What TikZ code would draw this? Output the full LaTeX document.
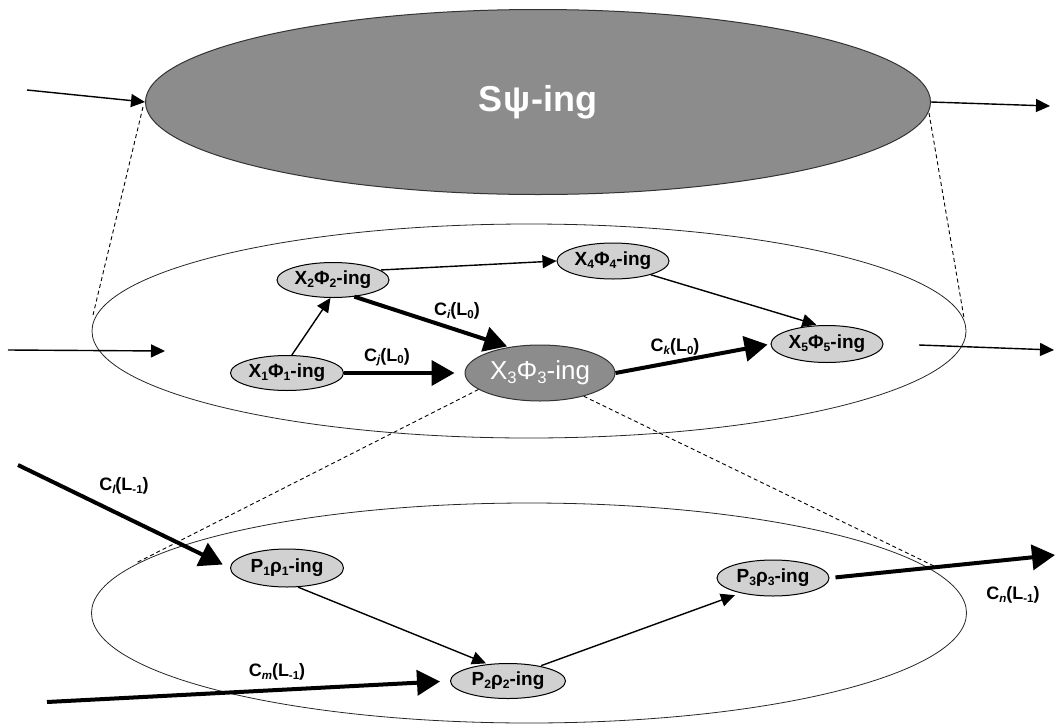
\documentclass[tikz,border=0pt]{standalone}
\usepackage{fontspec}
\setmainfont{Liberation Sans}
\usetikzlibrary{shapes.geometric,arrows.meta}
\makeatletter
\newcommand{\sbs}[1]{\raisebox{-0.28ex}{\fontsize{\strip@pt\dimexpr0.64\dimexpr\f@size pt\relax\relax}{0}\selectfont #1}}
\makeatother
\newcommand{\isbs}[1]{\sbs{\itshape #1}}
\definecolor{dkfill}{gray}{0.55}
\definecolor{ltfill}{gray}{0.82}
\begin{document}
\begin{tikzpicture}[x=1pt,y=-1pt,
  small/.style={ellipse,draw=black,line width=1pt,fill=ltfill,inner sep=0pt,
    font=\bfseries\fontsize{19}{19}\selectfont},
  big/.style={ellipse,draw=black!80,line width=1pt,fill=dkfill,inner sep=0pt,text=white},
  layer/.style={ellipse,draw=black!85,line width=0.8pt,inner sep=0pt},
  thin/.style={-{Triangle[length=14pt,width=13pt]},line width=1.4pt},
  thick/.style={-{Triangle[length=23pt,width=25pt]},line width=4pt},
  dashline/.style={line width=0.9pt,dash pattern=on 4pt off 3pt},
  lab/.style={font=\bfseries\fontsize{18}{18}\selectfont}]
\useasboundingbox (0,0) rectangle (1055,726);
% layers
\node[layer,minimum width=874,minimum height=214] (mid) at (529,331) {};
\node[layer,minimum width=875,minimum height=220] (bot) at (529,613) {};
\node[big,minimum width=785,minimum height=185,
  font=\bfseries\fontsize{36}{36}\selectfont] (S) at (538,102) {S\kern1pt ψ-ing};
% dashed projection lines
\coordinate (sl) at (143,107);
\coordinate (sr) at (929,113);
\coordinate (ml) at (93,315);
\coordinate (mr) at (964,318);
\draw[dashline] (sl) -- (ml);
\draw[dashline] (sr) -- (mr);
% middle nodes
\node[small,minimum width=112,minimum height=35] (x2) at (333,280) {X\sbs{2}Φ\sbs{2}-ing};
\node[small,minimum width=112,minimum height=36] (x4) at (613,261) {X\sbs{4}Φ\sbs{4}-ing};
\node[small,minimum width=113,minimum height=35] (x1) at (287,373) {X\sbs{1}Φ\sbs{1}-ing};
\node[big,minimum width=150,minimum height=56,
  font=\fontsize{26}{26}\selectfont] (x3) at (540,373) {X\sbs{3}Φ\sbs{3}-ing};
\node[small,minimum width=112,minimum height=37] (x5) at (827,344) {X\sbs{5}Φ\sbs{5}-ing};
% bottom nodes
\node[small,minimum width=113,minimum height=38] (p1) at (287,568) {P\sbs{1}ρ\sbs{1}-ing};
\node[small,minimum width=115,minimum height=35] (p2) at (508,681) {P\sbs{2}ρ\sbs{2}-ing};
\node[small,minimum width=112,minimum height=36] (p3) at (773,578) {P\sbs{3}ρ\sbs{3}-ing};
% dashed from X3
\coordinate (bl) at (136,563);
\coordinate (br) at (936,567);
\draw[dashline] (x3.195) -- (bl);
\draw[dashline] (x3.-28) -- (br);
% top arrows
\coordinate (tin) at (27,90);
\coordinate (tout) at (1050,106);
\draw[thin] (tin) -- (S.west);
\draw[thin] (S.east) -- (tout);
% middle arrows
\coordinate (min) at (8,350);
\coordinate (mine) at (165,351);
\coordinate (mout0) at (919,345);
\coordinate (mout) at (1054,350);
\draw[thin] (min) -- (mine);
\draw[thin] (mout0) -- (mout);
\draw[thin] (x1.75) -- (x2.262);
\draw[thin,shorten <=1pt] (x2.12) -- (x4.west);
\draw[thin,shorten >=2pt] (x4.-20) -- (x5.115);
\draw[thick,shorten >=2pt] (x2.-38) -- (x3.140);
\node[lab] (lci) at (457,311) {C\isbs{i}(L\sbs{0})};
\draw[thick,shorten >=10pt] (x1.east) -- (x3.west);
\node[lab] (lcj) at (387,357) {C\isbs{j}(L\sbs{0})};
\draw[thick,shorten >=3pt] (x3.east) -- (x5.west);
\node[lab] (lck) at (675,347) {C\isbs{k}(L\sbs{0})};
% bottom arrows
\coordinate (cl) at (18,465);
\coordinate (cm) at (47,702);
\coordinate (cn) at (1055,555);
\draw[thick,shorten >=8pt] (cl) -- (p1.west);
\node[lab] (lcl) at (124,486) {C\isbs{l}(L\sbs{-1})};
\draw[thin,shorten >=2pt] (p1.-60) -- (p2.140);
\draw[thick,shorten >=10pt] (cm) -- (p2.west);
\node[lab] (lcm) at (277,672) {C\isbs{m}(L\sbs{-1})};
\draw[thin,shorten <=1pt,shorten >=6pt] (p2.25) -- (p3.205);
\draw[thick,shorten <=6pt] (p3.east) -- (cn);
\node[lab] (lcn) at (1013,595) {C\isbs{n}(L\sbs{-1})};
\end{tikzpicture}
\end{document}
